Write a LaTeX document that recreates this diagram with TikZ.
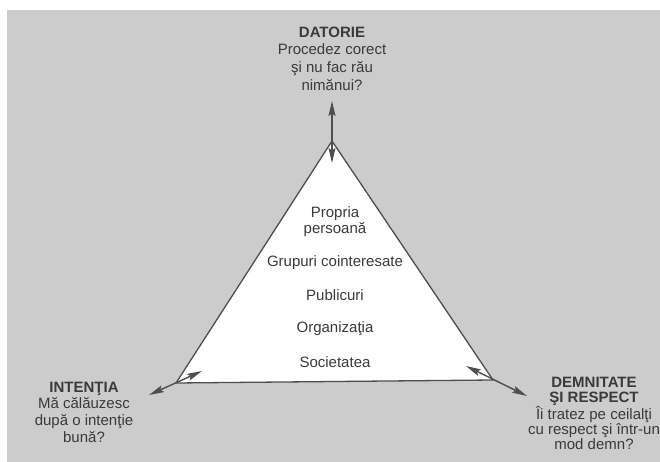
\documentclass[tikz,border=0pt]{standalone}
\usepackage{fontspec}
\setmainfont{Liberation Sans}
\usetikzlibrary{arrows.meta}
\definecolor{bg}{RGB}{204,204,204}
\definecolor{ink}{RGB}{58,58,58}
\definecolor{edge}{RGB}{78,78,78}
\begin{document}
\begin{tikzpicture}[x=1pt,y=-1pt,
  lbl/.style={font=\fontsize{15}{17.7}\selectfont, text=ink, align=center, inner sep=0pt},
  dbl/.style={draw=edge, line width=1.4pt,
    {Stealth[length=15pt,width=7pt,inset=2.5pt]}-{Stealth[length=15pt,width=7pt,inset=2.5pt]}},
  tri/.style={draw=edge, fill=white, line width=1.3pt, line join=miter}]
\useasboundingbox (0,0) rectangle (660,462);
\fill[white] (0,0) rectangle (660,462);
\fill[bg] (7,10) rectangle (660,462);
% triangle
\coordinate (A) at (332,141);
\coordinate (B) at (176,383);
\coordinate (C) at (493,380);
\filldraw[tri] (A) -- (B) -- (C) -- cycle;
% double arrows at vertices
\coordinate (Aout) at (332,101);
\coordinate (Ain) at (332,163);
\coordinate (Bout) at (149,395);
\coordinate (Bin) at (202,371);
\coordinate (Cout) at (527,396);
\coordinate (Cin) at (466,366);
\draw[dbl] (Aout) -- (Ain);
\draw[dbl] (Bout) -- (Bin);
\draw[dbl] (Cout) -- (Cin);
% corner labels
\node[lbl, anchor=north] (dat) at (332,26.5)
  {\textbf{DATORIE}\\Procedez corect\\şi nu fac rău\\nimănui?};
\node[lbl, anchor=north, font=\fontsize{15}{16.7}\selectfont] (int) at (84,381.5)
  {\textbf{INTENŢIA}\\Mă călăuzesc\\după o intenţie\\bună?};
\node[lbl, anchor=north, font=\fontsize{15}{15}\selectfont] (dem) at (594,376.5)
  {\textbf{DEMNITATE}\\\textbf{ŞI RESPECT}\\Îi tratez pe ceilalţi\\cu respect şi într-un\\mod demn?};
% inner labels
\node[lbl, anchor=north, font=\fontsize{15}{16}\selectfont] (pp) at (335,206.5) {Propria\\persoană};
\node[lbl, anchor=base] (grp) at (335,266) {Grupuri cointeresate};
\node[lbl, anchor=base] (pub) at (335,300) {Publicuri};
\node[lbl, anchor=base] (org) at (335,332) {Organizaţia};
\node[lbl, anchor=base] (soc) at (335,367) {Societatea};
\end{tikzpicture}
\end{document}
